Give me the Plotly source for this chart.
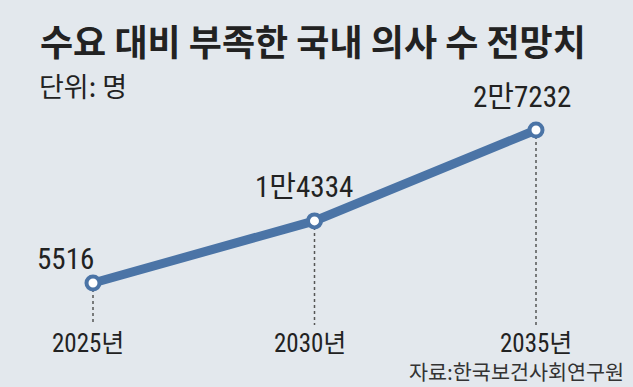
import plotly.graph_objects as go

years = [2025, 2030, 2035]
year_labels = ["2025년", "2030년", "2035년"]
values = [5516, 14334, 27232]
value_labels = ["5516", "1만4334", "2만7232"]

# label offsets (pixels) relative to each point
label_dx = [-28, -11, -14]
label_dy = [24, 34, 33]
year_dx = [-5, -5, 0]

W, H = 633, 387
BG = "#e3e8ed"
LINE = "#4b74a6"
TXT = "#222222"
NUM_FONT = "Roboto Condensed, Noto Sans CJK KR, sans-serif"
KR_FONT = "Noto Sans CJK KR, sans-serif"

plot_top, plot_bot = 100, 325
ph = plot_bot - plot_top
px_per_unit = 0.007045
y_bottom = 5516 - (plot_bot - 283) / px_per_unit
y_top = y_bottom + ph / px_per_unit

px_per_year = 44.3
x0 = 2025 - 93 / px_per_year
x1 = 2025 + (W - 93) / px_per_year

fig = go.Figure()
fig.add_trace(go.Scatter(
    x=years, y=values, mode="lines+markers",
    line=dict(color=LINE, width=9),
    marker=dict(size=13, color="white", line=dict(color=LINE, width=4)),
    hoverinfo="skip", showlegend=False,
))

shapes = []
for x, v in zip(years, values):
    shapes.append(dict(type="line", xref="x", yref="y", x0=x, x1=x, y0=v, y1=y_bottom,
                       line=dict(color="#555555", width=1.5, dash="dot"), layer="below"))

annotations = []
for x, v, t, dx, dy in zip(years, values, value_labels, label_dx, label_dy):
    annotations.append(dict(x=x, y=v, xref="x", yref="y", text=t, showarrow=False,
                            xshift=dx, yshift=dy, xanchor="center", yanchor="middle",
                            font=dict(family=NUM_FONT, size=29, color=TXT)))

def py(p):
    return (plot_bot - p) / ph

for x, t, dx in zip(years, year_labels, year_dx):
    annotations.append(dict(x=x, y=py(343), xref="x", yref="paper", text=t, showarrow=False,
                            xanchor="center", yanchor="middle", xshift=dx,
                            font=dict(family=NUM_FONT, size=25, color=TXT)))

annotations.append(dict(x=37 / W, y=py(85), xref="paper", yref="paper", text="단위: 명",
                        showarrow=False, xanchor="left", yanchor="middle",
                        font=dict(family=KR_FONT, size=27, color=TXT)))
annotations.append(dict(x=626 / W, y=py(371), xref="paper", yref="paper",
                        text="자료:한국보건사회연구원", showarrow=False,
                        xanchor="right", yanchor="middle",
                        font=dict(family=KR_FONT, size=20.7, color="#333333")))
annotations.append(dict(x=38 / W, y=py(40), xref="paper", yref="paper",
                        text="<b>수요 대비 부족한 국내 의사 수 전망치</b>", showarrow=False,
                        xanchor="left", yanchor="middle",
                        font=dict(family=KR_FONT, size=36, color=TXT)))

fig.update_layout(
    width=W, height=H,
    margin=dict(l=0, r=0, t=plot_top, b=H - plot_bot, pad=0),
    paper_bgcolor=BG, plot_bgcolor=BG,
    xaxis=dict(range=[x0, x1], visible=False, fixedrange=True),
    yaxis=dict(range=[y_bottom, y_top], visible=False, fixedrange=True),
    shapes=shapes, annotations=annotations,
)

fig.write_html("out.html", config={"displayModeBar": False},
               post_script="document.body.style.margin='0';document.body.style.background='%s';" % BG)
